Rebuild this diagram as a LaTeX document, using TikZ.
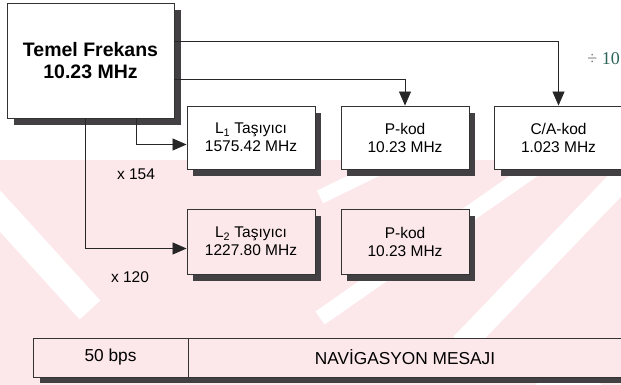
\documentclass[tikz,border=0pt]{standalone}
\usepackage{fontspec}
\setmainfont{Liberation Sans}
\newfontfamily\divfont{Liberation Serif}
\usetikzlibrary{arrows.meta}
\definecolor{wmpink}{RGB}{252,231,234}
\definecolor{shadegray}{RGB}{66,64,66}
\definecolor{divteal}{RGB}{45,100,90}

\begin{document}
\begin{tikzpicture}[x=1pt, y=-1pt, line width=0.8pt]
  \tikzset{box/.style={draw=black!80, line width=0.9pt, minimum width=128pt, minimum height=63pt,
              align=center, inner sep=0pt, font=\fontsize{15.5}{18}\selectfont},
    shadowbox/.style={fill=shadegray, draw=none, inner sep=0pt, minimum width=128pt, minimum height=63pt},
    arr/.style={draw=black!85, -{Triangle[length=14pt,width=12pt]}}}
  %% ════ 水印底纹（粉色斜带，近似）════
  \fill[wmpink] (0,160) rectangle (621,385);
  \draw[white, line width=28pt] (-10,200) -- (90,310);
  \draw[white, line width=14pt] (320,197) -- (400,158);
  \draw[white, line width=16pt] (320,318) -- (535,168);
  \draw[white, line width=24pt] (462,345) -- (630,170);
  \fill[white] (535,385) -- (568,352) -- (602,385) -- cycle;

  %% ════ 阴影：先铺深色块，再用白/粉底的框盖住 ════
  \node[shadowbox, minimum width=167pt, minimum height=115pt] (s0) at (97,68) {};
  \node[shadowbox] (s1) at (257,144.5) {};
  \node[shadowbox] (s2) at (411,144.5) {};
  \node[shadowbox] (s3) at (564.5,144.5) {};
  \node[shadowbox, minimum height=65pt] (s4) at (257,248.5) {};
  \node[shadowbox, minimum height=65pt] (s5) at (411,248.5) {};
  \node[shadowbox, minimum width=600pt, minimum height=39pt] (s6) at (340,363) {};

  %% ════ 方框 ════
  \node[box, fill=white, minimum width=167pt, minimum height=115pt, font=\bfseries\fontsize{19.5}{22.5}\selectfont]
    (temel) at (90.5,60.5) {Temel Frekans\\10.23 MHz};
  \node[box, fill=white] (l1) at (251,137.5) {L\textsubscript{1} Taşıyıcı\\1575.42 MHz};
  \node[box, fill=white] (p1) at (405,137.5) {P-kod\\10.23 MHz};
  \node[box, fill=white] (ca) at (558.5,137.5) {C/A-kod\\1.023 MHz};
  \node[box, fill=wmpink, minimum height=65pt] (l2) at (251,241.5) {L\textsubscript{2} Taşıyıcı\\1227.80 MHz};
  \node[box, fill=wmpink, minimum height=65pt] (p2) at (405,241.5) {P-kod\\10.23 MHz};
  \node[box, fill=wmpink, minimum width=155pt, minimum height=39pt, font=\fontsize{17.3}{20}\selectfont]
    (bps) at (110.5,357.5) {50 bps};
  \node[box, fill=wmpink, minimum width=434pt, minimum height=39pt, font=\fontsize{17.3}{20}\selectfont]
    (nav) at (405,357.5) {NAVİGASYON MESAJI};

  %% ════ 连线 ════
  \draw[arr] ([shift={(0,39)}]temel.north east) -| (ca.north);
  \draw[arr] ([shift={(0,77)}]temel.north east) -| (p1.north);
  \draw[arr] ([shift={(-38,0)}]temel.south east) |- ([shift={(0,7)}]l1.west);
  \draw[arr] ([shift={(-5.5,0)}]temel.south) |- ([shift={(0,7)}]l2.west);

  %% ════ 标签 ════
  \node[font=\fontsize{15.5}{18}\selectfont] (k154) at (136,174) {x 154};
  \node[font=\fontsize{15.5}{18}\selectfont] (k120) at (130,277) {x 120};
  \node[anchor=west, inner sep=0pt, font=\divfont\fontsize{18}{20}\selectfont, text=black!55]
    (bol) at (587,59) {÷ \textcolor{divteal}{10}};

  % 钉死画布
  \pgfresetboundingbox
  \path[use as bounding box] (0,0) rectangle (621,385);
\end{tikzpicture}
\end{document}
